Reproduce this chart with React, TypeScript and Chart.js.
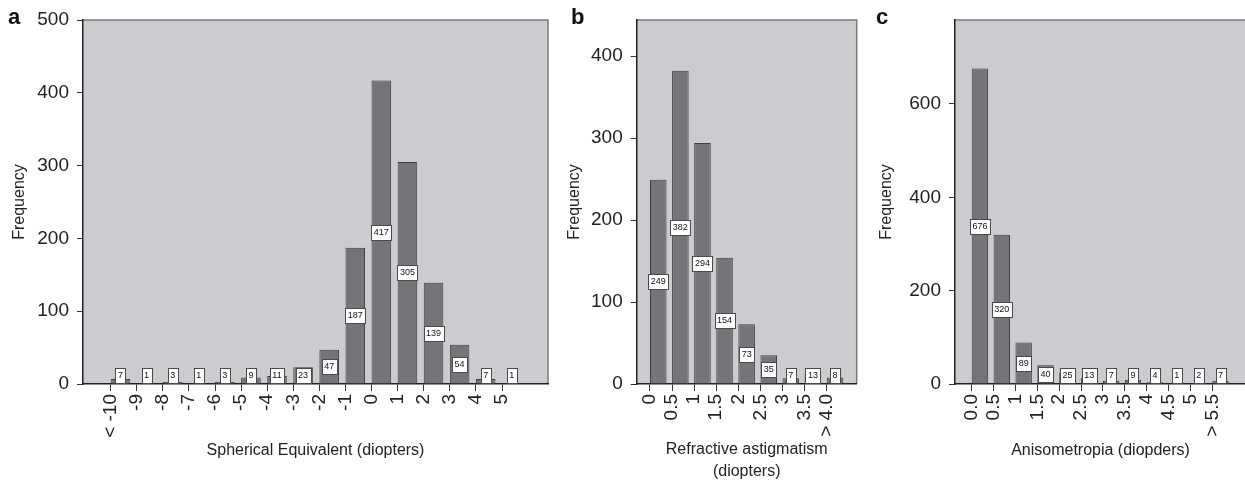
import React, { useEffect, useRef } from 'react';
import { Chart, registerables } from 'chart.js';

Chart.register(...registerables);

// ---------- data ----------
const sphCategories = ['< -10', '-9', '-8', '-7', '-6', '-5', '-4', '-3', '-2', '-1', '0', '1', '2', '3', '4', '5'];
const sphValues = [7, 1, 3, 1, 3, 9, 11, 23, 47, 187, 417, 305, 139, 54, 7, 1];
const sphYTicks = [0, 100, 200, 300, 400, 500];

const astCategories = ['0', '0.5', '1', '1.5', '2', '2.5', '3', '3.5', '> 4.0'];
const astValues = [249, 382, 294, 154, 73, 35, 7, 13, 8];
const astYTicks = [0, 100, 200, 300, 400];

const aniCategories = ['0.0', '0.5', '1', '1.5', '2', '2.5', '3', '3.5', '4', '4.5', '5', '> 5.5'];
const aniValues = [676, 320, 89, 40, 25, 13, 7, 9, 4, 1, 2, 7];
const aniYTicks = [0, 200, 400, 600];

// ---------- style ----------
const FONT = '"Liberation Sans", Arial, Helvetica, sans-serif';
const PLOT_BG = '#cbcccf';
const BAR_FILL = '#747579';
const BAR_BORDER = '#3d3d42';
const AXIS_COLOR = '#222222';
const TEXT_COLOR = '#222222';
const BAR_FRACTION = 0.75;
const CANVAS_H = 484;
const PLOT_TOP = 20;
const PLOT_BOTTOM = 384;

type PanelProps = {
  left: number;
  width: number;
  categories: string[];
  values: number[];
  yTicks: number[];
  yMax: number;
  xMin: number;
  xMax: number;
  xTitle: string | string[];
  padLeft: number;
  padRight: number;
  padBottom: number;
  yWidth: number;
};

function Panel(p: PanelProps) {
  const ref = useRef<HTMLCanvasElement | null>(null);

  useEffect(() => {
    if (!ref.current) return;
    const xHeight = CANVAS_H - p.padBottom - PLOT_BOTTOM;

    const bgPlugin = {
      id: 'plotBg',
      beforeDraw(chart: any) {
        const { ctx, chartArea: a } = chart;
        ctx.save();
        ctx.fillStyle = PLOT_BG;
        ctx.fillRect(a.left, a.top, a.right - a.left, a.bottom - a.top);
        ctx.strokeStyle = '#7a7a7a';
        ctx.lineWidth = 1.5;
        ctx.beginPath();
        ctx.moveTo(a.left, a.top);
        ctx.lineTo(a.right, a.top);
        ctx.lineTo(a.right, a.bottom);
        ctx.stroke();
        ctx.restore();
      },
    };

    const labelPlugin = {
      id: 'valueBoxes',
      afterDatasetsDraw(chart: any) {
        const ctx = chart.ctx;
        const meta = chart.getDatasetMeta(0);
        const ys = chart.scales.y;
        const base = ys.getPixelForValue(0);
        ctx.save();
        ctx.font = `9px ${FONT}`;
        ctx.textAlign = 'center';
        ctx.textBaseline = 'middle';
        meta.data.forEach((el: any, i: number) => {
          const v = p.values[i];
          const txt = String(v);
          let cy = ys.getPixelForValue(v / 2);
          cy = Math.min(cy, base - 8.5);
          const tw = ctx.measureText(txt).width;
          const w = Math.round(tw + 5);
          const h = 15;
          const x0 = Math.round(el.x - w / 2) + 0.5;
          const y0 = Math.round(cy - h / 2) + 0.5;
          ctx.fillStyle = '#ffffff';
          ctx.fillRect(x0, y0, w, h);
          ctx.strokeStyle = '#4a4a4a';
          ctx.lineWidth = 1;
          ctx.strokeRect(x0, y0, w, h);
          ctx.fillStyle = '#111111';
          ctx.fillText(txt, el.x, y0 + h / 2);
        });
        ctx.restore();
      },
    };

    const chart = new Chart(ref.current, {
      type: 'bar',
      data: {
        datasets: [
          {
            data: p.values.map((v, i) => ({ x: i + BAR_FRACTION / 2, y: v })),
            backgroundColor: BAR_FILL,
            borderColor: BAR_BORDER,
            borderWidth: 1,
            barPercentage: BAR_FRACTION,
            categoryPercentage: 1,
          } as any,
        ],
      },
      options: {
        animation: false,
        responsive: false,
        devicePixelRatio: 1,
        events: [],
        layout: {
          padding: { left: p.padLeft, right: p.padRight, top: PLOT_TOP, bottom: p.padBottom },
        },
        plugins: {
          legend: { display: false },
          tooltip: { enabled: false },
        },
        scales: {
          x: {
            type: 'linear',
            offset: false,
            min: p.xMin,
            max: p.xMax,
            afterBuildTicks: (s: any) => {
              s.ticks = p.categories.map((_, i) => ({ value: i }));
            },
            afterFit: (s: any) => {
              s.height = xHeight;
            },
            ticks: {
              autoSkip: false,
              minRotation: 90,
              maxRotation: 90,
              padding: 3,
              color: TEXT_COLOR,
              font: { family: FONT, size: 19 },
              callback: (_v: any, i: number) => p.categories[i],
            },
            grid: {
              offset: false,
              drawOnChartArea: false,
              drawTicks: true,
              tickLength: 7,
              color: '#333333',
              lineWidth: 1,
            },
            border: { display: true, color: AXIS_COLOR, width: 1.5 },
            title: {
              display: true,
              text: p.xTitle,
              color: TEXT_COLOR,
              font: { family: FONT, size: 16, lineHeight: 1.35 },
              padding: 0,
            },
          },
          y: {
            type: 'linear',
            min: 0,
            max: p.yMax,
            afterBuildTicks: (s: any) => {
              s.ticks = p.yTicks.map((v) => ({ value: v }));
            },
            afterFit: (s: any) => {
              s.width = p.yWidth;
            },
            ticks: {
              padding: 8,
              color: TEXT_COLOR,
              font: { family: FONT, size: 19 },
            },
            grid: { drawOnChartArea: false, drawTicks: true, tickLength: 6, color: '#333333', lineWidth: 1 },
            border: { display: true, color: AXIS_COLOR, width: 1.5 },
            title: {
              display: true,
              text: 'Frequency',
              color: TEXT_COLOR,
              font: { family: FONT, size: 16, lineHeight: 1.2 },
              padding: 0,
            },
          },
        },
      } as any,
      plugins: [bgPlugin, labelPlugin],
    });
    return () => chart.destroy();
  }, []);

  return (
    <canvas
      ref={ref}
      width={p.width}
      height={CANVAS_H}
      style={{ position: 'absolute', left: p.left, top: 0, width: p.width, height: CANVAS_H }}
    />
  );
}

const letterStyle: React.CSSProperties = {
  position: 'absolute',
  top: 6,
  fontFamily: FONT,
  fontWeight: 'bold',
  fontSize: 22,
  lineHeight: '22px',
  color: '#111',
};

export default function App() {
  return (
    <div
      style={{
        position: 'absolute',
        left: 0,
        top: 0,
        width: 1245,
        height: 484,
        overflow: 'hidden',
        background: '#ffffff',
      }}
    >
      <Panel
        left={0}
        width={556}
        categories={sphCategories}
        values={sphValues}
        yTicks={sphYTicks}
        yMax={500}
        xMin={-1.062}
        xMax={16.763}
        xTitle="Spherical Equivalent (diopters)"
        padLeft={10}
        padRight={8}
        padBottom={23}
        yWidth={73}
      />
      <Panel
        left={560}
        width={310}
        categories={astCategories}
        values={astValues}
        yTicks={astYTicks}
        yMax={444}
        xMin={-0.602}
        xMax={9.358}
        xTitle={['Refractive astigmatism', '(diopters)']}
        padLeft={5.4}
        padRight={13.3}
        padBottom={2}
        yWidth={71.3}
      />
      <Panel
        left={870}
        width={376}
        categories={aniCategories}
        values={aniValues}
        yTicks={aniYTicks}
        yMax={780}
        xMin={-0.764}
        xMax={12.54}
        xTitle="Anisometropia (diopders)"
        padLeft={7.4}
        padRight={0}
        padBottom={23}
        yWidth={77.6}
      />
      <div style={{ ...letterStyle, left: 8 }}>a</div>
      <div style={{ ...letterStyle, left: 571 }}>b</div>
      <div style={{ ...letterStyle, left: 876 }}>c</div>
    </div>
  );
}
